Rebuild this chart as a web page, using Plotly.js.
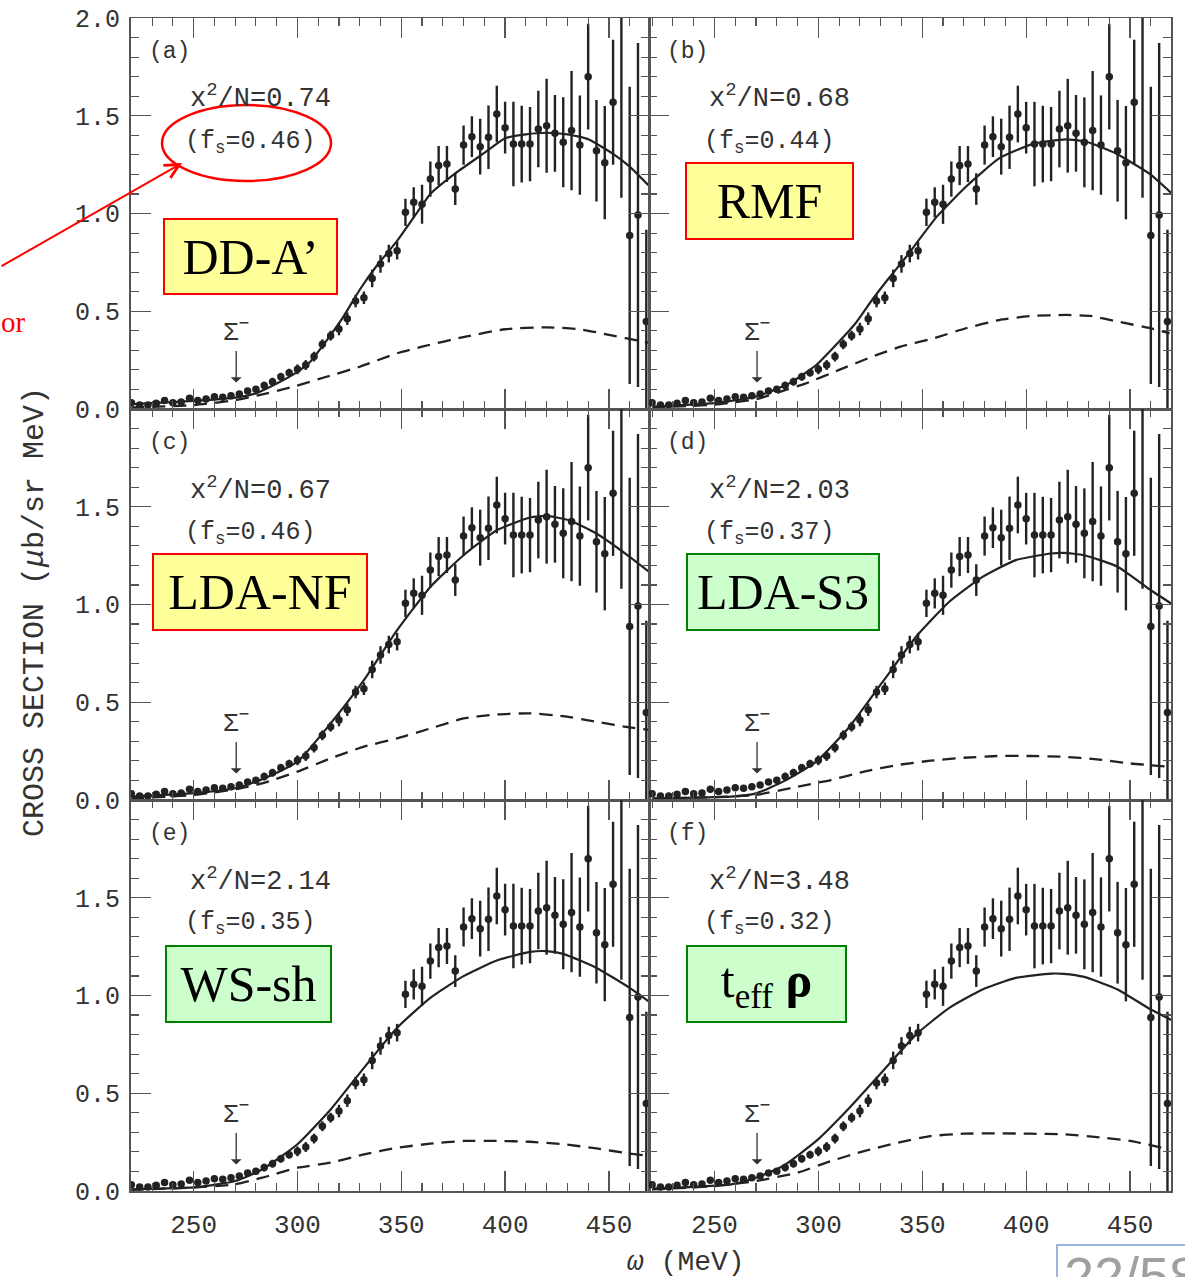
<!DOCTYPE html>
<html>
<head>
<meta charset="utf-8">
<script src="https://cdn.plot.ly/plotly-3.0.1.min.js"></script>
<style>html,body{margin:0;padding:0;background:#fff;}</style>
</head>
<body>
<div id="chart" style="width:1185px;height:1277px;"></div>
<script>
// Measured (K-, pi+) spectrum: energy transfer omega (MeV) and cross section (ub/sr MeV)
const omega = [220,224,228,232,236,240,244,248,252,256,260,264,268,272,276,280,
  284,288,292,296,300,304,308,312,316,320,324,328,332,336,340,344,348,
  352,356,360,364,368,372,376,380,384,388,392,396,400,404,408,412,416,420,424,
  428,432,436,440,444,448,452,456,460,464,468];
const sigma = [0.032,0.020,0.020,0.029,0.043,0.032,0.036,0.055,0.044,0.051,0.063,0.060,0.068,0.077,0.092,0.101,
  0.120,0.140,0.165,0.186,0.203,0.225,0.268,0.331,0.375,0.409,0.462,0.552,0.569,0.668,0.742,0.795,0.810,
  1.006,1.057,1.047,1.176,1.245,1.253,1.125,1.350,1.393,1.342,1.390,1.509,1.439,1.355,1.355,1.355,1.432,1.449,1.410,
  1.364,1.424,1.350,1.700,1.321,1.260,1.569,2.050,0.888,0.992,0.447];
const sigmaErr = [0.012,0.012,0.012,0.012,0.012,0.012,0.012,0.012,0.015,0.015,0.015,0.015,0.015,0.015,0.015,0.015,
  0.020,0.020,0.020,0.020,0.025,0.025,0.025,0.025,0.025,0.032,0.032,0.032,0.032,0.045,0.045,0.045,0.045,
  0.070,0.077,0.100,0.090,0.100,0.092,0.081,0.100,0.104,0.143,0.162,0.145,0.132,0.216,0.196,0.190,0.196,0.240,0.196,
  0.230,0.305,0.254,0.270,0.260,0.290,0.320,0.970,0.760,0.880,0.470];

// Calculated spectra: total (solid) and Sigma- component (dashed) for each potential
const totalOmegaA = [220,240,260,270,280,290,300,306,314,322,330,338,348,356,364,376,390,400,410,420,430,440,452,460,469];
const totalA      = [0.025,0.035,0.048,0.058,0.080,0.130,0.190,0.240,0.350,0.470,0.610,0.730,0.860,0.980,1.100,1.205,1.310,1.385,1.405,1.413,1.405,1.380,1.305,1.240,1.145];
const sigmaOmegaA = [220,250,270,282,298,314,330,348,360,381,400,420,436,458,469];
const sigmaPartA  = [0.008,0.020,0.045,0.072,0.114,0.165,0.216,0.285,0.319,0.370,0.408,0.418,0.408,0.362,0.339];

const totalOmegaB = [220,250,270,286,299,310,318,326,334,342,357,371,387,403,419,429,443,459,470];
const totalB      = [0.012,0.030,0.063,0.131,0.225,0.345,0.440,0.560,0.670,0.775,0.984,1.137,1.282,1.355,1.379,1.367,1.308,1.206,1.103];
const sigmaOmegaB = [220,250,270,285,294,310,326,340,355,371,387,403,419,431,444,460,469];
const sigmaPartB  = [0.008,0.022,0.050,0.100,0.131,0.200,0.268,0.320,0.360,0.413,0.455,0.476,0.481,0.476,0.447,0.413,0.387];

const totalOmegaC = [220,250,270,284,300,316,332,348,364,380,396,412,420,431,444,460,470];
const totalC      = [0.017,0.035,0.060,0.110,0.196,0.392,0.613,0.869,1.090,1.252,1.380,1.445,1.453,1.430,1.363,1.244,1.162];
const sigmaOmegaC = [220,250,270,283,300,316,332,348,364,380,396,412,428,444,460,470];
const sigmaPartC  = [0.008,0.025,0.055,0.085,0.145,0.213,0.273,0.315,0.366,0.417,0.438,0.443,0.429,0.400,0.371,0.358];

const totalOmegaD = [220,258,270,283,299,315,331,347,363,379,395,412,418,428,444,460,471];
const totalD      = [0.009,0.017,0.034,0.094,0.196,0.375,0.605,0.835,1.014,1.141,1.227,1.261,1.264,1.252,1.193,1.073,0.997];
const sigmaOmegaD = [220,250,270,290,306,322,338,354,370,386,402,418,434,450,469];
const sigmaPartD  = [0.006,0.015,0.026,0.068,0.102,0.145,0.179,0.201,0.216,0.225,0.225,0.221,0.208,0.187,0.170];

const totalOmegaE = [220,252,270,283,300,316,332,348,364,380,396,412,420,428,444,460,470];
const totalE      = [0.009,0.020,0.051,0.110,0.239,0.417,0.630,0.835,0.988,1.099,1.179,1.223,1.227,1.213,1.141,1.039,0.963];
const sigmaOmegaE = [220,250,270,283,300,316,332,348,364,380,396,412,428,444,460,470];
const sigmaPartE  = [0.006,0.018,0.034,0.068,0.119,0.145,0.187,0.221,0.242,0.256,0.256,0.252,0.239,0.218,0.191,0.179];

const totalOmegaF = [220,258,270,283,299,315,331,347,363,379,395,412,418,428,444,460,471];
const totalF      = [0.012,0.034,0.068,0.128,0.256,0.426,0.613,0.800,0.937,1.031,1.090,1.112,1.111,1.095,1.031,0.928,0.869];
const sigmaOmegaF = [220,250,270,290,306,322,338,354,370,386,402,418,434,450,469];
const sigmaPartF  = [0.008,0.025,0.051,0.094,0.153,0.204,0.247,0.281,0.293,0.295,0.293,0.290,0.276,0.256,0.213];

// Panel captions
const panelTags  = ['(a)','(b)','(c)','(d)','(e)','(f)'];
const chiValues  = ['0.74','0.68','0.67','2.03','2.14','3.48'];
const fsValues   = ['0.46','0.44','0.46','0.37','0.35','0.32'];
const modelNames = ['DD-A’','RMF','LDA-NF','LDA-S3','WS-sh','t<sub>eff</sub> <b>ρ</b>'];
const xTickVals  = [250,300,350,400,450];
const yTickVals  = [0,0.5,1.0,1.5,2.0];

const W = 1185, H = 1277;
const colPx = [[130.5,649],[649,1171]];
const rowPx = [[18,409],[409,800],[800,1191]];
const xRanges = [[219.6,469.3],[218.5,469.7]];
const INK = '#222';
const AXC = '#555';
const TXT = '#333';
const mono = 'Liberation Mono, Courier New, monospace';
const serif = 'Liberation Serif, Times New Roman, serif';

const curves = [
  [totalOmegaA,totalA,sigmaOmegaA,sigmaPartA],
  [totalOmegaB,totalB,sigmaOmegaB,sigmaPartB],
  [totalOmegaC,totalC,sigmaOmegaC,sigmaPartC],
  [totalOmegaD,totalD,sigmaOmegaD,sigmaPartD],
  [totalOmegaE,totalE,sigmaOmegaE,sigmaPartE],
  [totalOmegaF,totalF,sigmaOmegaF,sigmaPartF]
];
// model-box styles: yellow/red for the good fits, green for the others
const boxStyle = [
  {bg:'#ffff99', border:'#ff0000'},
  {bg:'#ffff99', border:'#ff0000'},
  {bg:'#ffff99', border:'#ff0000'},
  {bg:'#ccffcc', border:'#008000'},
  {bg:'#ccffcc', border:'#008000'},
  {bg:'#ccffcc', border:'#008000'}
];
const boxPx = [  // centre x, centre y, width, height
  [250.5,256.5,175,77],[769.5,201,169,78],
  [260,592,216,78],[783,592,194,78],
  [248.5,984,167,78],[766.5,984,161,78]
];

const px2x = v => v / W;
const px2y = v => 1 - v / H;

const traces = [];
const layout = {
  width: W, height: H,
  margin: {l:0, r:0, t:0, b:0},
  paper_bgcolor: '#fff', plot_bgcolor: '#fff',
  showlegend: false,
  annotations: [], shapes: []
};

function note(xp, yp, text, font, extra) {
  return Object.assign({xref:'paper', yref:'paper', x: px2x(xp), y: px2y(yp),
    xanchor:'center', yanchor:'middle', text: text, showarrow:false, font: font}, extra || {});
}

for (let k = 0; k < 6; k++) {
  const r = Math.floor(k / 2), c = k % 2;
  const sfx = k === 0 ? '' : String(k + 1);
  const xa = 'x' + sfx, ya = 'y' + sfx;

  layout['xaxis' + sfx] = {
    domain: [px2x(colPx[c][0]), px2x(colPx[c][1])],
    range: xRanges[c], anchor: ya,
    showline: true, mirror: 'ticks', linecolor: AXC, linewidth: 1.5,
    ticks: 'inside', ticklen: 20, tickwidth: 1.3, tickcolor: AXC,
    tickmode: 'array', tickvals: xTickVals,
    minor: {dtick: 10, tick0: 250, ticks: 'inside', ticklen: 8, tickwidth: 1.1, tickcolor: AXC},
    showgrid: false, zeroline: false,
    showticklabels: r === 2,
    tickfont: {family: mono, size: 26, color: TXT},
    ticklabelstandoff: 9,
    fixedrange: true
  };
  const yLabels = r === 0 ? ['0.0','0.5','1.0','1.5','2.0'] : ['0.0','0.5','1.0','1.5',''];
  layout['yaxis' + sfx] = {
    domain: [px2y(rowPx[r][1]), px2y(rowPx[r][0])],
    range: [0, 2], anchor: xa,
    showline: true, mirror: 'ticks', linecolor: AXC, linewidth: 1.5,
    ticks: 'inside', ticklen: 20, tickwidth: 1.3, tickcolor: AXC,
    tickmode: 'array', tickvals: yTickVals, ticktext: yLabels,
    minor: {dtick: 0.1, tick0: 0, ticks: 'inside', ticklen: 8, tickwidth: 1.1, tickcolor: AXC},
    showgrid: false, zeroline: false,
    showticklabels: c === 0,
    tickfont: {family: mono, size: 25, color: TXT},
    ticklabelstandoff: 4,
    fixedrange: true
  };

  // measured points with error bars
  traces.push({
    type: 'scatter', mode: 'markers', xaxis: xa, yaxis: ya,
    x: omega, y: sigma,
    marker: {size: 7.5, color: INK},
    error_y: {type: 'data', array: sigmaErr, visible: true, thickness: 2.4, width: 0, color: INK},
    hoverinfo: 'x+y'
  });
  // total calculated spectrum
  traces.push({
    type: 'scatter', mode: 'lines', xaxis: xa, yaxis: ya,
    x: curves[k][0], y: curves[k][1],
    line: {color: INK, width: 2.2, shape: 'spline', smoothing: 0.5}
  });
  // Sigma- component
  traces.push({
    type: 'scatter', mode: 'lines', xaxis: xa, yaxis: ya,
    x: curves[k][2], y: curves[k][3],
    line: {color: INK, width: 2.3, dash: '13px,8px', shape: 'spline', smoothing: 0.5}
  });

  const px0 = colPx[c][0], py0 = rowPx[r][0];
  const A = layout.annotations;
  A.push(note(px0 + 39, py0 + 34, panelTags[k], {family: mono, size: 23, color: TXT}));
  A.push(note(px0 + 130, py0 + 79, 'x<sup>2</sup>/N=' + chiValues[k], {family: mono, size: 27, color: TXT}));
  A.push(note(px0 + 120, py0 + 124, '(f<sub>s</sub>=' + fsValues[k] + ')', {family: mono, size: 25, color: TXT}));
  // Sigma- threshold marker
  A.push({xref: xa, yref: ya, x: 270.5, y: 0.135, ax: 0, ay: -52,
    text: 'Σ<sup>−</sup>', showarrow: true, arrowhead: 1, arrowsize: 1.4, arrowwidth: 1.3,
    arrowcolor: TXT, startstandoff: 2, font:{family: mono, size: 26, color: TXT}});
  // model name box
  const b = boxPx[k];
  A.push(note(b[0], b[1], modelNames[k], {family: serif, size: 50, color: '#000'},
    {width: b[2] - 4, height: b[3] - 4, borderpad: 0,
     bgcolor: boxStyle[k].bg, bordercolor: boxStyle[k].border, borderwidth: 2}));
}

// common axis titles
layout.annotations.push(note(35, 612, 'CROSS SECTION (<i>μ</i>b/sr MeV)',
  {family: mono, size: 30, color: TXT}, {textangle: -90}));
layout.annotations.push(note(686, 1262, '<i>ω</i> (MeV)', {family: mono, size: 28, color: TXT}));

// red highlight around f_s of panel (a)
layout.shapes.push({type:'circle', xref:'paper', yref:'paper',
  x0: px2x(162), x1: px2x(331), y0: px2y(181), y1: px2y(105),
  line:{color:'#ff0000', width: 2.5}});
layout.annotations.push({xref:'paper', yref:'paper', x: px2x(182), y: px2y(163),
  ax: -184, ay: 104, text: '', showarrow: true, arrowhead: 5, arrowsize: 1.4,
  arrowwidth: 2, arrowcolor: '#ff0000'});
layout.annotations.push(note(-1, 322, 'or', {family: serif, size: 29, color:'#ff0000'},
  {xanchor:'left'}));

// slide page counter in the corner
layout.shapes.push({type:'rect', xref:'paper', yref:'paper',
  x0: px2x(1057), x1: px2x(1190), y0: px2y(1285), y1: px2y(1245),
  line:{color:'#7f9bd0', width: 1.5}, fillcolor:'rgba(0,0,0,0)'});
layout.annotations.push(note(1062, 1244, '22/58',
  {family: 'Liberation Sans, Arial, sans-serif', size: 54, color:'#a0a0a0'},
  {xanchor:'left', yanchor:'top'}));

Plotly.newPlot('chart', traces, layout, {staticPlot: true, displayModeBar: false});
</script>
</body>
</html>
